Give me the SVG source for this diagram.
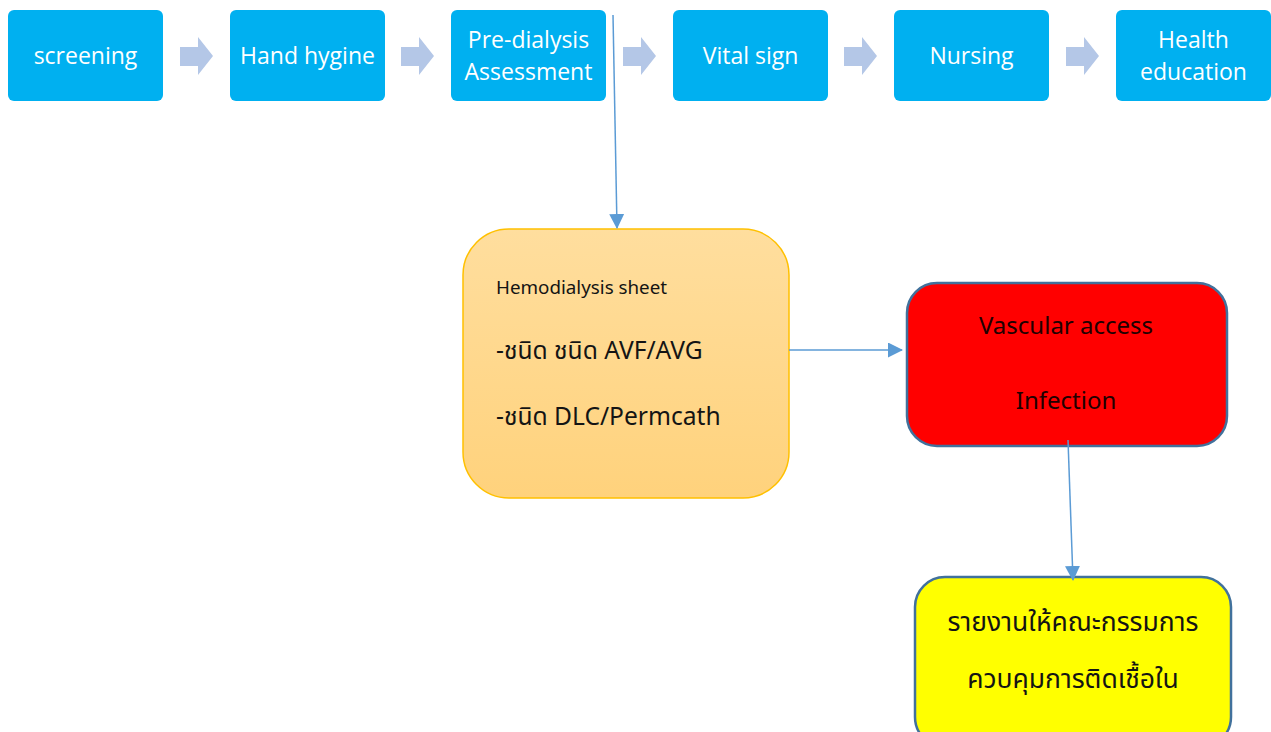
<svg xmlns="http://www.w3.org/2000/svg" width="1271" height="732" viewBox="0 0 1271 732">
  <style>
    .step { fill: #00B0F0; }
    .step-label { fill: #FFFFFF; font-family: "Open Sans", "Noto Sans", sans-serif; font-size: 23px; text-anchor: middle; }
    .chevron { fill: #B4C7E7; }
    .link { stroke: #5B9BD5; stroke-width: 1.5; fill: none; }
    .thai { font-family: "Noto Sans", "Noto Sans Thai", "Leelawadee UI", Tahoma, sans-serif; }
    .dark { fill: #141414; }
  </style>
  <defs>
    <linearGradient id="sheetFill" x1="0" y1="0" x2="0" y2="1">
      <stop offset="0" stop-color="#FFDE9E"/>
      <stop offset="1" stop-color="#FFD27C"/>
    </linearGradient>
    <marker id="tri" markerWidth="15" markerHeight="15" refX="14" refY="7.5" orient="auto" markerUnits="userSpaceOnUse" viewBox="0 0 15 15">
      <path d="M0,0 L15,7.5 L0,15 Z" fill="#5B9BD5"/>
    </marker>
    <path id="chev" d="M0,10 H18 V0 L33,19 L18,38 V29 H0 Z"/>
  </defs>

  <!-- process steps -->
  <g id="step-screening">
    <rect class="step" x="8" y="10" width="155" height="91" rx="6"/>
    <text class="step-label" x="85.5" y="64">screening</text>
  </g>
  <g id="step-hand-hygine">
    <rect class="step" x="230" y="10" width="155" height="91" rx="6"/>
    <text class="step-label" x="307.5" y="64">Hand hygine</text>
  </g>
  <g id="step-pre-dialysis">
    <rect class="step" x="451" y="10" width="155" height="91" rx="6"/>
    <text class="step-label" x="528.5" y="48">Pre-dialysis</text>
    <text class="step-label" x="528.5" y="80">Assessment</text>
  </g>
  <g id="step-vital-sign">
    <rect class="step" x="673" y="10" width="155" height="91" rx="6"/>
    <text class="step-label" x="750.5" y="64">Vital sign</text>
  </g>
  <g id="step-nursing">
    <rect class="step" x="894" y="10" width="155" height="91" rx="6"/>
    <text class="step-label" x="971.5" y="64">Nursing</text>
  </g>
  <g id="step-health-education">
    <rect class="step" x="1116" y="10" width="155" height="91" rx="6"/>
    <text class="step-label" x="1193.5" y="48">Health</text>
    <text class="step-label" x="1193.5" y="80">education</text>
  </g>

  <!-- chevrons between steps -->
  <g id="chevrons" class="chevron">
    <use href="#chev" x="180" y="37"/>
    <use href="#chev" x="401" y="37"/>
    <use href="#chev" x="623" y="37"/>
    <use href="#chev" x="844" y="37"/>
    <use href="#chev" x="1066" y="37"/>
  </g>

  <!-- hemodialysis sheet -->
  <g id="hemodialysis-sheet">
    <rect x="463" y="229" width="326" height="269" rx="46" fill="url(#sheetFill)" stroke="#FFC000" stroke-width="1.5"/>
    <text class="thai dark" x="496" y="294" font-size="18.8">Hemodialysis sheet</text>
    <text class="thai dark" x="496" y="359" font-size="24.6">-ชนิด ชนิด AVF/AVG</text>
    <text class="thai dark" x="496" y="425" font-size="24.6">-ชนิด DLC/Permcath</text>
  </g>

  <!-- vascular access infection -->
  <g id="vascular-access-infection">
    <rect x="907" y="283" width="320" height="163" rx="30" fill="#FF0000" stroke="#41719C" stroke-width="2.5"/>
    <text class="thai" fill="#200000" x="1066" y="334" font-size="24" text-anchor="middle">Vascular access</text>
    <text class="thai" fill="#200000" x="1066" y="409" font-size="24" text-anchor="middle">Infection</text>
  </g>

  <!-- report to infection control committee -->
  <g id="report-committee">
    <rect x="915" y="577" width="316" height="170" rx="30" fill="#FFFF00" stroke="#41719C" stroke-width="2.5"/>
    <text class="thai dark" x="1073" y="631" font-size="26.5" text-anchor="middle">รายงานให้คณะกรรมการ</text>
    <text class="thai dark" x="1073" y="688" font-size="26.5" text-anchor="middle">ควบคุมการติดเชื้อใน</text>
  </g>

  <!-- connectors -->
  <g id="connectors">
    <path class="link" d="M613,15 L617,228" marker-end="url(#tri)"/>
    <path class="link" d="M789,350 L902,350" marker-end="url(#tri)"/>
    <path class="link" d="M1068,440 L1073,580" marker-end="url(#tri)"/>
  </g>
</svg>
